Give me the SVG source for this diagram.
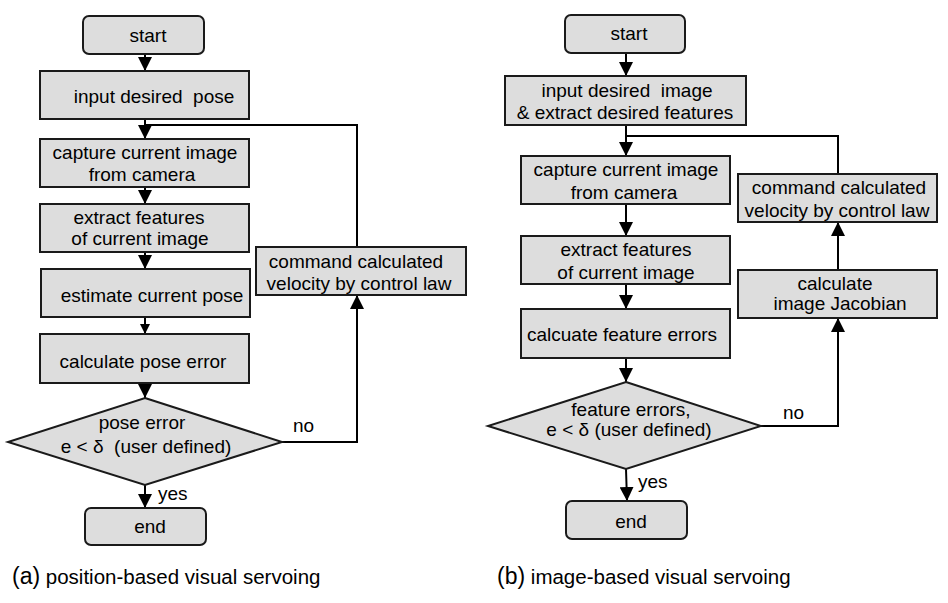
<svg xmlns="http://www.w3.org/2000/svg" width="948" height="603" viewBox="0 0 948 603">
<defs>
<marker id="ah" markerUnits="userSpaceOnUse" markerWidth="14" markerHeight="14" viewBox="0 0 14 14" refX="14" refY="7" orient="auto">
<path d="M0,0 L14,7 L0,14 z" fill="#000"/>
</marker>
<marker id="ahs" markerUnits="userSpaceOnUse" markerWidth="10" markerHeight="10" viewBox="0 0 10 10" refX="10" refY="5" orient="auto">
<path d="M0,0 L10,5 L0,10 z" fill="#000"/>
</marker>
<style>
.n{fill:#dddddd;stroke:#1a1a1a;stroke-width:2}
.t{font-family:"Liberation Sans",Arial,sans-serif;font-size:19px;fill:#000;text-anchor:middle;white-space:pre}
.l{font-family:"Liberation Sans",Arial,sans-serif;font-size:19px;fill:#000}
.c{fill:none;stroke:#000;stroke-width:2}
.a{marker-end:url(#ah)}
.cap{font-family:"Liberation Sans",Arial,sans-serif;font-size:20.5px;fill:#000}
.capb{font-size:23px}
</style>
</defs>

<g id="connectors">
<path class="c a" d="M145,54 V71"/>
<path class="c a" d="M145,119 V139"/>
<path class="c" d="M357,247 V125 H145"/>
<path class="c a" d="M145,187 V204"/>
<path class="c a" d="M145,252 V269"/>
<path class="c" style="marker-end:url(#ahs)" d="M145,318 V334"/>
<path class="c a" d="M145,383 V398"/>
<path class="c a" d="M282,442 H357 V295"/>
<path class="c a" d="M145,485 V508"/>
<path class="c a" d="M626,53 V76"/>
<path class="c a" d="M626,125 V156"/>
<path class="c" d="M838,174 V136 H626"/>
<path class="c a" d="M626,204 V236"/>
<path class="c a" d="M626,284 V309"/>
<path class="c a" d="M626,358 V382"/>
<path class="c a" d="M761,426 H838 V318"/>
<path class="c a" d="M838,270 V222"/>
<path class="c a" d="M626,469 L627,501"/>
</g>

<g id="left-start"><rect class="n" x="83" y="16" width="121" height="38" rx="6"/><text class="t" x="148" y="42">start</text></g>
<g id="left-input"><rect class="n" x="40" y="71" width="209" height="48"/><text class="t" x="154" y="103" xml:space="preserve">input desired  pose</text></g>
<g id="left-capture"><rect class="n" x="40" y="139" width="209" height="48"/><text class="t" x="145" y="159">capture current image</text><text class="t" x="142" y="181">from camera</text></g>
<g id="left-extract"><rect class="n" x="40" y="204" width="209" height="48"/><text class="t" x="139" y="224">extract features</text><text class="t" x="140" y="245">of current image</text></g>
<g id="left-estimate"><rect class="n" x="41" y="269" width="209" height="48"/><text class="t" x="152" y="302">estimate current pose</text></g>
<g id="left-calc"><rect class="n" x="40" y="334" width="209" height="49"/><text class="t" x="143" y="368">calculate pose error</text></g>
<g id="left-decision"><polygon class="n" points="145,398 282,442 145,485 8,442"/><text class="t" x="142" y="429">pose error</text><text class="t" x="146" y="453" xml:space="preserve">e &lt; δ  (user defined)</text></g>
<g id="left-end"><rect class="n" x="85" y="508" width="121" height="37" rx="6"/><text class="t" x="150" y="533">end</text></g>
<g id="left-command"><rect class="n" x="256" y="247" width="210" height="48"/><text class="t" x="356" y="268">command calculated</text><text class="t" x="359" y="290">velocity by control law</text></g>
<text class="l" x="293" y="432">no</text>
<text class="l" x="158" y="500">yes</text>
<text class="cap" x="12" y="584"><tspan class="capb">(a)</tspan> position-based visual servoing</text>

<g id="right-start"><rect class="n" x="565" y="15" width="120" height="38" rx="6"/><text class="t" x="629" y="40">start</text></g>
<g id="right-input"><rect class="n" x="505" y="76" width="241" height="49"/><text class="t" x="627" y="97" xml:space="preserve">input desired  image</text><text class="t" x="625" y="119">&amp; extract desired features</text></g>
<g id="right-capture"><rect class="n" x="521" y="156" width="209" height="48"/><text class="t" x="626" y="176">capture current image</text><text class="t" x="624" y="199">from camera</text></g>
<g id="right-extract"><rect class="n" x="521" y="236" width="209" height="48"/><text class="t" x="626" y="256">extract features</text><text class="t" x="626" y="279">of current image</text></g>
<g id="right-calc"><rect class="n" x="521" y="309" width="209" height="49"/><text class="t" x="622" y="341">calcuate feature errors</text></g>
<g id="right-decision"><polygon class="n" points="626,382 761,426 626,469 488,426"/><text class="t" x="631" y="416">feature errors,</text><text class="t" x="629" y="436">e &lt; δ (user defined)</text></g>
<g id="right-end"><rect class="n" x="566" y="501" width="121" height="38" rx="6"/><text class="t" x="631" y="528">end</text></g>
<g id="right-command"><rect class="n" x="738" y="174" width="199" height="48"/><text class="t" x="839" y="194">command calculated</text><text class="t" x="837" y="217">velocity by control law</text></g>
<g id="right-jacobian"><rect class="n" x="738" y="270" width="199" height="48"/><text class="t" x="835" y="290">calculate</text><text class="t" x="840" y="310">image Jacobian</text></g>
<text class="l" x="783" y="419">no</text>
<text class="l" x="638" y="488">yes</text>
<text class="cap" x="497" y="584"><tspan class="capb">(b)</tspan> image-based visual servoing</text>
</svg>
